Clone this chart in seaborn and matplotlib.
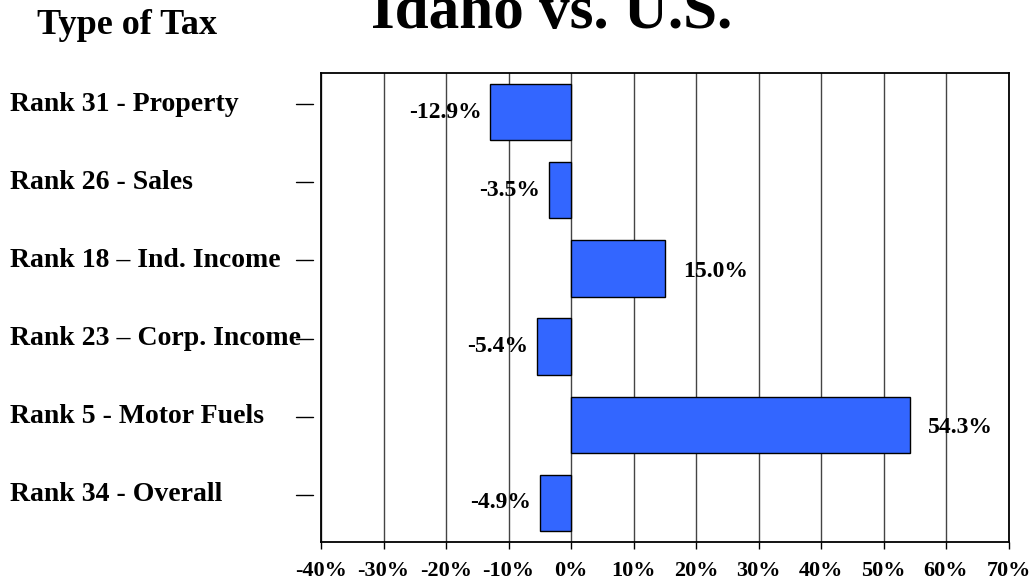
import matplotlib
matplotlib.use("Agg")
import matplotlib.pyplot as plt
import matplotlib.transforms as mtransforms
import seaborn as sns
import pandas as pd

categories = ["Rank 31 - Property", "Rank 26 - Sales", "Rank 18 \u2013 Ind. Income",
              "Rank 23 \u2013 Corp. Income", "Rank 5 - Motor Fuels", "Rank 34 - Overall"]
values = [-12.9, -3.5, 15.0, -5.4, 54.3, -4.9]
value_labels = ["-12.9%", "-3.5%", "15.0%", "-5.4%", "54.3%", "-4.9%"]
x_ticks = [-40, -30, -20, -10, 0, 10, 20, 30, 40, 50, 60, 70]
x_tick_labels = [f"{t}%" for t in x_ticks]
title = "Idaho vs. U.S."
axis_title = "Type of Tax"

sns.set_theme(style="white")
plt.rcParams['font.family'] = ['Liberation Serif', 'DejaVu Serif']
plt.rcParams['font.weight'] = 'bold'
plt.rcParams['text.color'] = 'black'
plt.rcParams['xtick.color'] = 'black'
plt.rcParams['ytick.color'] = 'black'

df = pd.DataFrame({"cat": categories, "val": values})

fig = plt.figure(figsize=(10.31, 5.87), dpi=100)
ax = fig.add_axes([321/1031, 1 - 542/587, (1008.5 - 321)/1031, (542 - 73)/587])

sns.barplot(data=df, y="cat", x="val", orient="h", color="#3366FF", saturation=1,
            width=0.72, edgecolor="black", linewidth=1.0, ax=ax, zorder=3)

ax.set_xlim(-40, 70)
ax.set_ylim(len(categories) - 0.5, -0.5)
ax.set_xticks(x_ticks)
ax.set_xticklabels(x_tick_labels, fontsize=16, fontweight='bold', color='black')
ax.set_xlabel("")
ax.set_ylabel("")
ax.set_yticks(range(len(categories)))
ax.set_yticklabels([])
ax.tick_params(axis='y', length=0)
ax.tick_params(axis='x', direction='out', length=5, width=1, color='black', pad=9, bottom=True)
ax.xaxis.grid(True, color='#444444', linewidth=1.0)
ax.yaxis.grid(False)
ax.set_axisbelow(True)
for s in ax.spines.values():
    s.set_color('black')
    s.set_linewidth(1.3)

# value labels
for i, (v, lab) in enumerate(zip(values, value_labels)):
    if v < 0:
        off = mtransforms.offset_copy(ax.transData, fig=fig, x=-9, y=0, units='dots')
        ax.text(v, i, lab, ha='right', va='center', fontsize=17, fontweight='bold',
                color='black', transform=off, zorder=5)
    else:
        off = mtransforms.offset_copy(ax.transData, fig=fig, x=18, y=-3, units='dots')
        ax.text(v, i, lab, ha='left', va='center', fontsize=17, fontweight='bold',
                color='black', transform=off, zorder=5)

# category labels with dashes at left
blend = mtransforms.blended_transform_factory(fig.transFigure, ax.transData)
lab_tr = mtransforms.offset_copy(blend, fig=fig, x=0, y=8, units='dots')
for i, c in enumerate(categories):
    ax.text(10/1031, i, c, ha='left', va='center', fontsize=20, fontweight='bold',
            color='black', transform=lab_tr, clip_on=False)
    ax.plot([296/1031, 313/1031], [i, i], color='black', lw=1.0,
            transform=lab_tr, clip_on=False)

fig.text(37/1031, 1 - 26/587, axis_title, ha='left', va='center', fontsize=26,
         fontweight='bold', color='black')
fig.text(552/1031, 1 - 28/587, title, ha='center', va='baseline', fontsize=44,
         fontweight='bold', color='black')

fig.savefig("out.png", dpi=100)
